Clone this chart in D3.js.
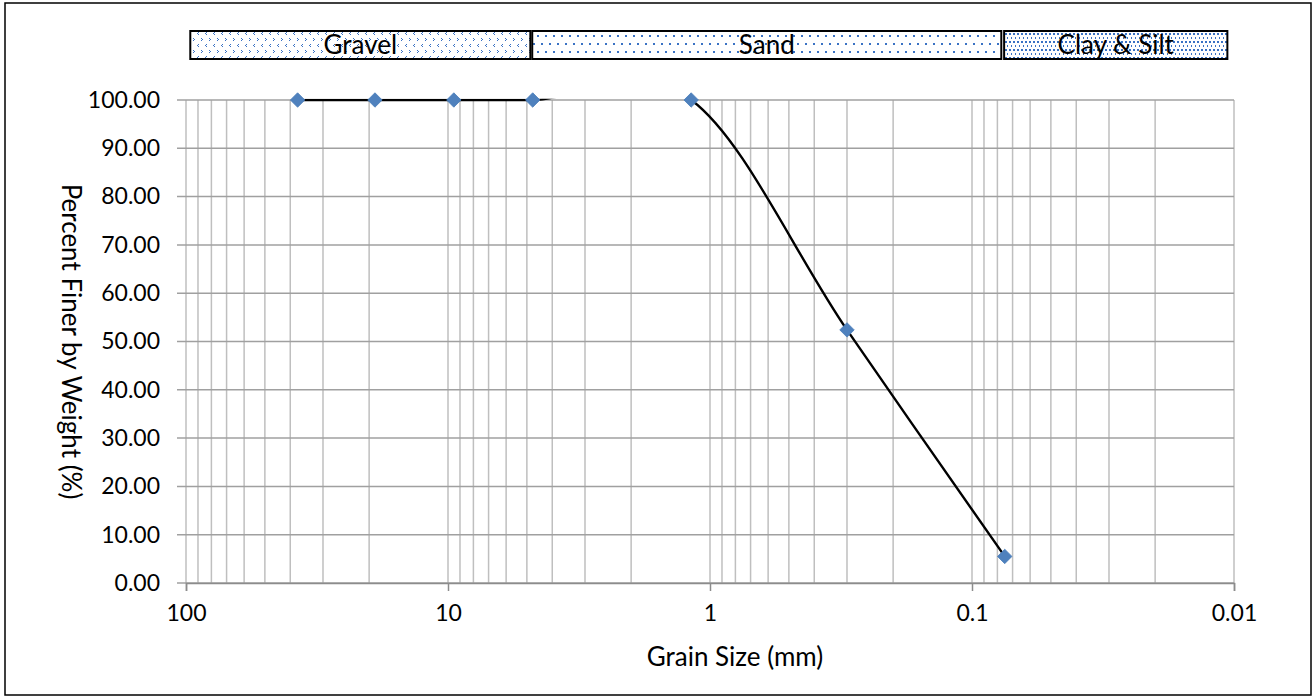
<!DOCTYPE html>
<html>
<head>
	<meta charset="utf-8">
	<style>
		body { margin: 0; background: #fff; }
		text { font-family: Lato, "Liberation Sans", sans-serif; fill: #000; }
	</style>
</head>
<body>
<div id="chartContainer"></div>
<script src="https://d3js.org/d3.v7.min.js"></script>
<script type="text/javascript">

// Sieve results (grain size in mm, percent finer by weight)
var grainSizes = [37.5, 19, 9.5, 4.75, 1.18, 0.3, 0.075];
var percentFiner = [100, 100, 100, 100, 100, 52.4, 5.5];

// Axis ticks
var xTickValues = [100, 10, 1, 0.1, 0.01];
var xTickLabels = ["100", "10", "1", "0.1", "0.01"];
var yTickValues = [0, 10, 20, 30, 40, 50, 60, 70, 80, 90, 100];

// Soil classification bands along the top (sizes in mm)
var bandNames = ["Gravel", "Sand", "Clay & Silt"];
var bandFrom = [96.3, 4.77, 0.0754];
var bandTo = [4.85, 0.0773, 0.0106];
var bandPatterns = ["patGravel", "patSand", "patClay"];

// Chart size and margins
var width = 1315, height = 700;
var margin = {top: 100, left: 186};
var plotSize = {width: 1048, height: 483};

var svg = d3.select("#chartContainer").append("svg")
	.attr("width", width).attr("height", height);

var defs = svg.append("defs");
var blue = "#3a72c4";

// fill patterns for the band boxes (crisp pixel dots)
function dotPattern(id, w, h, dots, dw, dh) {
	var p = defs.append("pattern").attr("id", id)
		.attr("patternUnits", "userSpaceOnUse").attr("width", w).attr("height", h);
	dots.forEach(function (d) {
		p.append("rect").attr("x", d[0]).attr("y", d[1])
			.attr("width", dw).attr("height", dh)
			.attr("fill", blue).attr("shape-rendering", "crispEdges");
	});
}
dotPattern("patGravel", 8, 12, [[1, 2], [2, 3], [1, 4], [6, 8], [5, 9], [6, 10]], 1, 1);
dotPattern("patSand", 8, 16, [[1, 3], [5, 11]], 2, 2);
dotPattern("patClay", 4, 8, [[1, 1], [3, 5]], 1.5, 1.5);

// clip the smoothed line to the plot area (overshoot above 100 gets cut)
defs.append("clipPath").attr("id", "plotClip").append("rect")
	.attr("x", margin.left).attr("y", margin.top - 1.2)
	.attr("width", plotSize.width).attr("height", plotSize.height + 6);

// Outer frame
svg.append("rect")
	.attr("x", 5).attr("y", 3).attr("width", 1306).attr("height", 692)
	.attr("fill", "none").attr("stroke", "#000").attr("stroke-width", 1.5);

// Scales
var x = d3.scaleLog().domain([100, 0.01]).range([margin.left, margin.left + plotSize.width]);
var y = d3.scaleLinear().domain([0, 100]).range([margin.top + plotSize.height, margin.top]);

// vertical gridlines (major + minor log lines)
svg.append("g").selectAll("line")
	.data(x.ticks())
	.enter().append("line")
	.attr("x1", function (d) { return x(d); }).attr("x2", function (d) { return x(d); })
	.attr("y1", margin.top).attr("y2", margin.top + plotSize.height)
	.attr("stroke", "#bfbfbf").attr("stroke-width", 1.5);

// horizontal gridlines, run past the axis as tick marks
svg.append("g").selectAll("line")
	.data(yTickValues)
	.enter().append("line")
	.attr("x1", margin.left - 9).attr("x2", margin.left + plotSize.width)
	.attr("y1", function (d) { return y(d); }).attr("y2", function (d) { return y(d); })
	.attr("stroke", "#a0a0a0").attr("stroke-width", 1.5);

// x axis (bottom line + ticks)
var xAxis = d3.axisBottom(x).tickValues(xTickValues)
	.tickFormat(function (d, i) { return xTickLabels[i]; })
	.tickSize(8).tickPadding(14);
var gx = svg.append("g")
	.attr("transform", "translate(0," + (margin.top + plotSize.height) + ")")
	.call(xAxis);
gx.select(".domain").attr("stroke", "#8c8c8c").attr("stroke-width", 1.5);
gx.selectAll(".tick line").attr("stroke", "#8c8c8c").attr("stroke-width", 1.5);
gx.selectAll(".tick text").style("font-size", "23px").style("font-family", "Lato, sans-serif").attr("fill", "#000");

// y axis labels
var yAxis = d3.axisLeft(y).tickValues(yTickValues)
	.tickFormat(d3.format(".2f")).tickSize(0).tickPadding(26);
var gy = svg.append("g")
	.attr("transform", "translate(" + margin.left + ",0)")
	.call(yAxis);
gy.select(".domain").remove();
gy.selectAll(".tick text").style("font-size", "23px").style("font-family", "Lato, sans-serif").attr("fill", "#000");

// Axis titles
svg.append("text")
	.attr("x", 735).attr("y", 666)
	.style("text-anchor", "middle").style("font-size", "26px")
	.text("Grain Size (mm)");

svg.append("text")
	.attr("transform", "translate(62," + (margin.top + plotSize.height / 2) + ") rotate(90)")
	.style("text-anchor", "middle").style("font-size", "26px")
	.text("Percent Finer by Weight (%)");

// Smoothed line through the points
var pts = grainSizes.map(function (d, i) { return [d, percentFiner[i]]; });
var line = d3.line()
	.x(function (d) { return x(d[0]); })
	.y(function (d) { return y(d[1]); })
	.curve(d3.curveCardinal.tension(0));

svg.append("path")
	.datum(pts)
	.attr("clip-path", "url(#plotClip)")
	.attr("d", line)
	.attr("fill", "none").attr("stroke", "#000").attr("stroke-width", 2.4);

// diamond markers
svg.append("g").selectAll("path")
	.data(pts)
	.enter().append("path")
	.attr("transform", function (d) { return "translate(" + x(d[0]) + "," + y(d[1]) + ") rotate(45)"; })
	.attr("d", d3.symbol().type(d3.symbolSquare).size(104))
	.attr("fill", "#4f81bd").attr("stroke", "#4a7ebb").attr("stroke-width", 0.8);

// Band boxes across the top
var bands = svg.append("g").selectAll("g")
	.data(bandNames)
	.enter().append("g");
bands.append("rect")
	.attr("x", function (d, i) { return x(bandFrom[i]); })
	.attr("y", 31)
	.attr("width", function (d, i) { return x(bandTo[i]) - x(bandFrom[i]); })
	.attr("height", 28)
	.attr("fill", function (d, i) { return "url(#" + bandPatterns[i] + ")"; })
	.attr("stroke", "#000").attr("stroke-width", 2);
bands.append("text")
	.attr("x", function (d, i) { return (x(bandTo[i]) + x(bandFrom[i])) / 2; })
	.attr("y", 54)
	.style("text-anchor", "middle").style("font-size", "26px")
	.text(function (d) { return d; });

</script>
</body>
</html>
